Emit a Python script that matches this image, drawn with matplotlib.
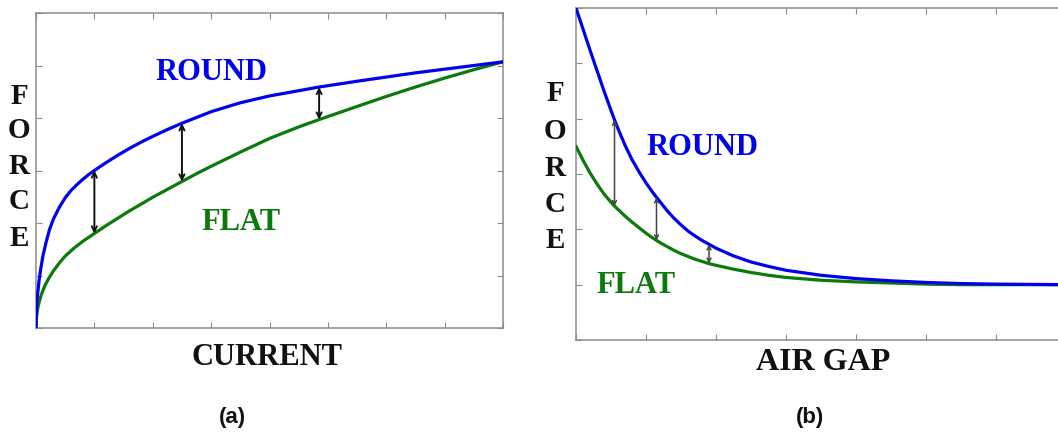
import matplotlib
matplotlib.use("Agg")
import matplotlib.pyplot as plt

# ---- data -----------------------------------------------------------------
# (a) force versus current
current_round = [0, 0.01, 0.025, 0.05, 0.08, 0.12, 0.17, 0.23, 0.3, 0.4, 0.5,
                 0.6, 0.7, 0.8, 0.9, 1.0, 1.2, 1.4, 1.6, 1.8, 2.0, 2.25, 2.5,
                 2.75, 3.0, 3.5, 4.0, 4.5, 4.85, 5.5, 6.0, 6.5, 7.0, 7.5, 8.0]
force_round_a = [0, 0.4, 0.62, 0.88, 1.12, 1.38, 1.62, 1.87, 2.08, 2.3, 2.48,
                 2.62, 2.73, 2.83, 2.92, 3.0, 3.15, 3.29, 3.42, 3.54, 3.65,
                 3.78, 3.9, 4.01, 4.12, 4.29, 4.42, 4.52, 4.59, 4.7, 4.78,
                 4.86, 4.93, 5.0, 5.07]
current_flat = [0, 0.01, 0.03, 0.06, 0.1, 0.15, 0.22, 0.3, 0.4, 0.5, 0.65,
                0.8, 1.0, 1.2, 1.4, 1.6, 1.8, 2.0, 2.25, 2.5, 2.75, 3.0, 3.5,
                4.0, 4.5, 4.85, 5.5, 6.0, 6.5, 7.0, 7.5, 8.0]
force_flat_a = [0, 0.22, 0.38, 0.52, 0.66, 0.8, 0.95, 1.09, 1.24, 1.37, 1.52,
                1.65, 1.8, 1.95, 2.09, 2.23, 2.36, 2.49, 2.64, 2.79, 2.94,
                3.08, 3.35, 3.61, 3.83, 3.97, 4.22, 4.41, 4.59, 4.76, 4.92,
                5.07]
arrows_a = [1.0, 2.5, 4.85]

# (b) force versus air gap
gap = [0, 0.1, 0.2, 0.3, 0.4, 0.5, 0.55, 0.6, 0.7, 0.8, 0.9, 1.0, 1.1, 1.15,
       1.2, 1.3, 1.4, 1.5, 1.6, 1.7, 1.8, 1.9, 2.0, 2.25, 2.5, 2.75, 3.0,
       3.5, 4.0, 4.5, 5.0, 5.5, 6.0, 7.0]
force_round_b = [6.0, 5.62, 5.24, 4.87, 4.5, 4.15, 3.98, 3.82, 3.52, 3.26,
                 3.04, 2.84, 2.66, 2.58, 2.5, 2.34, 2.2, 2.08, 1.97, 1.88,
                 1.8, 1.73, 1.66, 1.52, 1.41, 1.33, 1.26, 1.17, 1.11, 1.07,
                 1.04, 1.02, 1.01, 1.0]
force_flat_b = [3.5, 3.25, 3.02, 2.82, 2.64, 2.49, 2.42, 2.36, 2.24, 2.13,
                2.03, 1.93, 1.84, 1.8, 1.76, 1.69, 1.62, 1.56, 1.51, 1.46,
                1.42, 1.38, 1.35, 1.28, 1.22, 1.17, 1.13, 1.08, 1.05, 1.03,
                1.01, 1.0, 1.0, 1.0]
arrows_b = [0.55, 1.15, 1.9]

# ---- styling --------------------------------------------------------------
W, H = 1058, 433
BLUE = "#0000ee"
GREEN = "#0a7a0a"
SPINE = "#8c8c8c"
INK = "#111111"
SERIF = "Liberation Serif"
SANS = "Liberation Sans"

fig = plt.figure(figsize=(W / 100, H / 100), dpi=100)
fig.patch.set_facecolor("white")


def box(left, top, right, bottom):
    """Axes rectangle from pixel edges."""
    return [left / W, 1 - bottom / H, (right - left) / W, (bottom - top) / H]


def px(x, y):
    return x / W, 1 - y / H


def style_axes(ax, xmax, ymax):
    ax.set_xlim(0, xmax)
    ax.set_ylim(0, ymax)
    ax.set_xticks(range(0, xmax + 1))
    ax.set_yticks(range(0, ymax + 1))
    ax.tick_params(direction="in", length=4, width=0.8, color=SPINE,
                   top=True, right=True, labelbottom=False, labelleft=False)
    for s in ax.spines.values():
        s.set_color(SPINE)
        s.set_linewidth(1.1)


def draw_arrows(ax, xs, x_hi, y_hi, x_lo, y_lo, color, lw, scale):
    for x in xs:
        top = y_hi[x_hi.index(x)]
        bot = y_lo[x_lo.index(x)]
        ax.annotate("", xy=(x, top), xytext=(x, bot),
                    arrowprops=dict(arrowstyle="<->", color=color, lw=lw,
                                    mutation_scale=scale,
                                    shrinkA=0, shrinkB=0), zorder=4)


line_kw = dict(lw=2.3, zorder=3, solid_joinstyle="round",
               solid_capstyle="round")

# ---- panel (a) ------------------------------------------------------------
ax1 = fig.add_axes(box(36, 13, 503, 328))
style_axes(ax1, 8, 6)
ax1.plot(current_flat, force_flat_a, color=GREEN, **line_kw)
ax1.plot(current_round, force_round_a, color=BLUE, **line_kw)
draw_arrows(ax1, arrows_a, current_round, force_round_a,
            current_flat, force_flat_a, INK, 1.4, 9)
ax1.text(3.01, 4.72, "ROUND", color=BLUE, fontsize=22, fontweight="bold",
         family=SERIF, ha="center", va="baseline")
ax1.text(3.51, 1.87, "FLAT", color=GREEN, fontsize=22, fontweight="bold",
         family=SERIF, ha="center", va="baseline")

# ---- panel (b) ------------------------------------------------------------
ax2 = fig.add_axes(box(576, 8, 1066, 340))
style_axes(ax2, 7, 6)
ax2.plot(gap, force_flat_b, color=GREEN, **line_kw)
ax2.plot(gap, force_round_b, color=BLUE, **line_kw)
draw_arrows(ax2, arrows_b, gap, force_round_b, gap, force_flat_b,
            "#444444", 1.1, 7)
ax2.text(1.81, 3.35, "ROUND", color=BLUE, fontsize=22, fontweight="bold",
         family=SERIF, ha="center", va="baseline")
ax2.text(0.86, 0.85, "FLAT", color=GREEN, fontsize=22, fontweight="bold",
         family=SERIF, ha="center", va="baseline")

# ---- axis titles ----------------------------------------------------------
for cx, baselines in ((19, [104, 138, 174, 209, 246]),
                      (555, [101, 139, 176, 212, 248])):
    for ch, by in zip("FORCE", baselines):
        fig.text(*px(cx, by), ch, fontsize=21, fontweight="bold",
                 family=SERIF, ha="center", va="baseline", color=INK)

fig.text(*px(267, 365), "CURRENT", fontsize=22, fontweight="bold",
         family=SERIF, ha="center", va="baseline", color=INK)
fig.text(*px(823, 370), "AIR GAP", fontsize=23, fontweight="bold",
         family=SERIF, ha="center", va="baseline", color=INK)

fig.text(*px(232, 418), "(a)", fontsize=16, fontweight="bold",
         family=SANS, ha="center", va="center", color=INK)
fig.text(*px(810, 418), "(b)", fontsize=16, fontweight="bold",
         family=SANS, ha="center", va="center", color=INK)

fig.savefig("out.png", dpi=100, facecolor="white")
